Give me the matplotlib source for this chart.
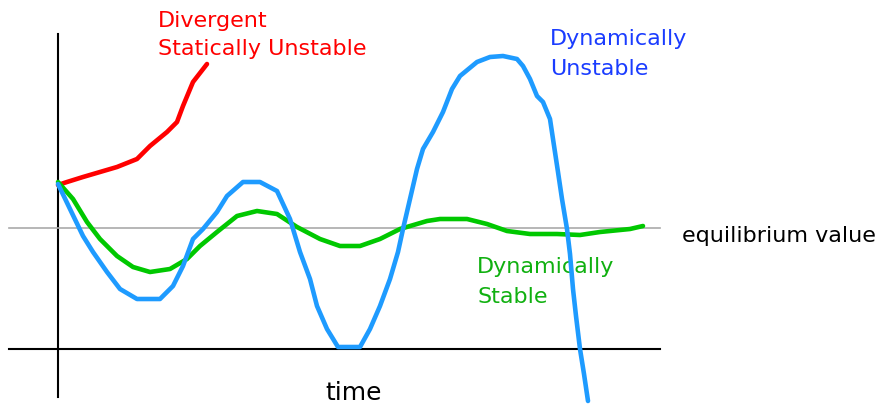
import matplotlib
matplotlib.use("Agg")
import matplotlib.pyplot as plt

# Data: time (t) and displacement from equilibrium (y)
red_t = [0, 0.09, 0.25, 0.42, 0.59, 0.79, 0.92, 1.09, 1.19, 1.25, 1.35, 1.49]
red_y = [0.43, 0.46, 0.51, 0.56, 0.61, 0.69, 0.82, 0.96, 1.06, 1.22, 1.46, 1.64]

blue_t = [0, 0.12, 0.25, 0.35, 0.49, 0.62, 0.79, 1.02, 1.15, 1.25, 1.35, 1.45, 1.59,
          1.69, 1.85, 2.02, 2.19, 2.32, 2.42, 2.52, 2.59, 2.69, 2.80, 3.02, 3.12,
          3.22, 3.32, 3.40, 3.45, 3.52, 3.59, 3.65, 3.75, 3.85, 3.94, 4.02, 4.19,
          4.32, 4.45, 4.59, 4.65, 4.72, 4.79, 4.85, 4.92, 4.95, 5.00, 5.04, 5.09,
          5.12, 5.15, 5.18, 5.22, 5.26, 5.30]
blue_y = [0.44, 0.19, -0.08, -0.24, -0.44, -0.61, -0.71, -0.71, -0.58, -0.38, -0.11,
          -0.01, 0.16, 0.32, 0.46, 0.46, 0.37, 0.09, -0.24, -0.51, -0.78, -1.01,
          -1.19, -1.19, -1.01, -0.78, -0.51, -0.24, -0.01, 0.29, 0.59, 0.79, 0.96,
          1.16, 1.39, 1.52, 1.66, 1.71, 1.72, 1.69, 1.62, 1.49, 1.32, 1.26, 1.09,
          0.89, 0.56, 0.29, -0.01, -0.26, -0.61, -0.88, -1.21, -1.46, -1.73]

green_t = [0, 0.15, 0.29, 0.42, 0.59, 0.75, 0.92, 1.12, 1.29, 1.42, 1.59, 1.79, 1.99,
           2.19, 2.39, 2.62, 2.82, 3.02, 3.22, 3.42, 3.69, 3.82, 4.09, 4.29, 4.49,
           4.72, 4.99, 5.22, 5.42, 5.72, 5.85]
green_y = [0.46, 0.29, 0.06, -0.11, -0.28, -0.39, -0.44, -0.41, -0.31, -0.18, -0.04,
           0.12, 0.17, 0.14, 0.01, -0.11, -0.18, -0.18, -0.11, -0.01, 0.07, 0.09,
           0.09, 0.04, -0.03, -0.06, -0.06, -0.07, -0.04, -0.01, 0.02]

fig = plt.figure(figsize=(8.81, 4.06), dpi=100)
ax = fig.add_axes([0, 0, 1, 1])
ax.set_xlim(-0.58, 8.23)
ax.set_ylim(-1.77, 2.29)
ax.axis("off")

# axes and equilibrium line
ax.plot([0, 0], [-1.69, 1.94], color="black", lw=1.5, zorder=1)
ax.plot([-0.49, 6.02], [-1.21, -1.21], color="black", lw=1.5, zorder=1)
ax.plot([-0.49, 6.02], [0, 0], color="#aaaaaa", lw=1.2, zorder=1)

kw = dict(lw=3.3, solid_joinstyle="round", solid_capstyle="round")
ax.plot(red_t, red_y, color="#ff0000", zorder=3, **kw)
ax.plot(green_t, green_y, color="#00c800", zorder=3, **kw)
ax.plot(blue_t, blue_y, color="#1e9bff", zorder=4, **kw)

fs = 16
ax.text(1.00, 2.02, "Divergent", color="#ff0000", fontsize=fs, va="baseline", ha="left")
ax.text(1.00, 1.74, "Statically Unstable", color="#ff0000", fontsize=fs, va="baseline", ha="left")
ax.text(4.92, 1.84, "Dynamically", color="#1a3cff", fontsize=fs, va="baseline", ha="left")
ax.text(4.92, 1.54, "Unstable", color="#1a3cff", fontsize=fs, va="baseline", ha="left")
ax.text(4.19, -0.44, "Dynamically", color="#10b010", fontsize=fs, va="baseline", ha="left", zorder=2)
ax.text(4.19, -0.74, "Stable", color="#10b010", fontsize=fs, va="baseline", ha="left", zorder=2)
ax.text(6.24, -0.13, "equilibrium value", color="black", fontsize=fs, va="baseline", ha="left")
ax.text(2.67, -1.71, "time", color="black", fontsize=18, va="baseline", ha="left")

fig.savefig("out.png", dpi=100)
